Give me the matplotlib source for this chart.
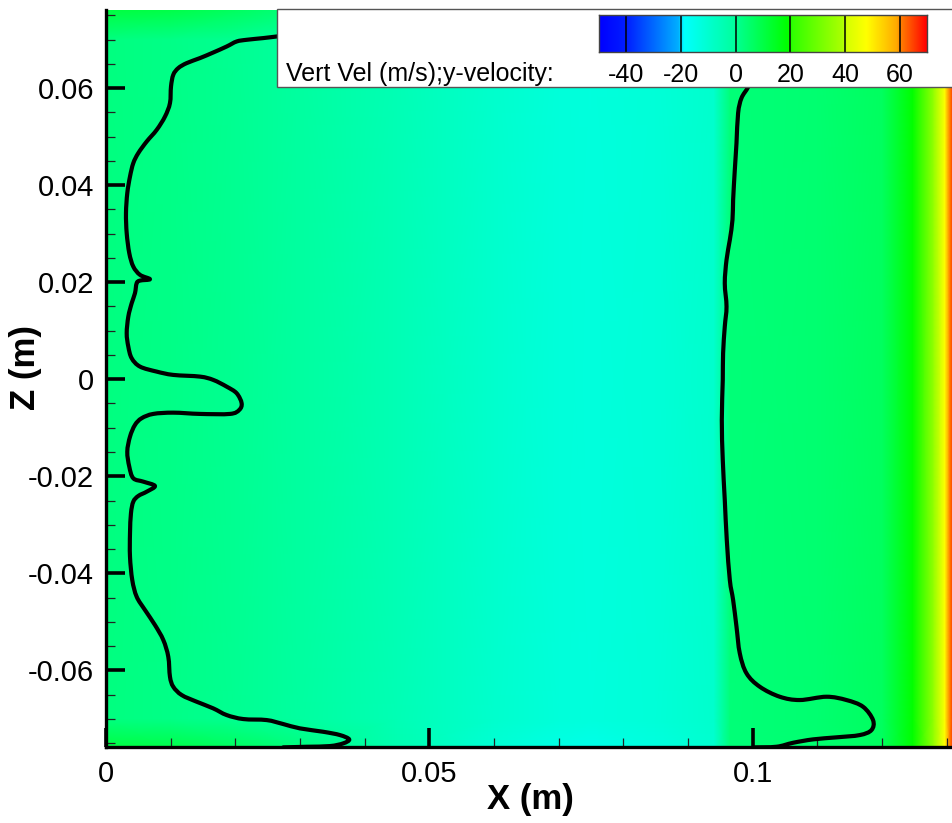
import numpy as np
import matplotlib
matplotlib.use('Agg')
import matplotlib.pyplot as plt
from matplotlib.colors import LinearSegmentedColormap, Normalize
from matplotlib.patches import Rectangle, PathPatch
from matplotlib.path import Path
from matplotlib.ticker import MultipleLocator, FixedLocator, FuncFormatter
import matplotlib.transforms as mtransforms

plt.rcParams['font.family'] = ['Liberation Sans', 'DejaVu Sans']
plt.rcParams['axes.unicode_minus'] = False

# ---------------- data ----------------
# colour map anchors (value -> colour)
cmap_values = [-50, -40, -21, -19, -1, 1, 19, 21, 39, 41, 48, 59, 61, 70]
cmap_colors = ['#0000ff', '#001eff', '#00afff', '#00ffff', '#00ffa0', '#00ff8c',
               '#00ff00', '#32ff00', '#aaff00', '#d7ff00', '#ffff00', '#ffaa00',
               '#ff7800', '#ff0000']
cb_min, cb_max = -50, 70
cb_ticks = [-40, -20, 0, 20, 40, 60]

# vertical velocity field (m/s)
field_x = [0.0, 0.01, 0.02, 0.03, 0.045, 0.06, 0.07, 0.075, 0.085, 0.094, 0.0965,
           0.11, 0.12, 0.1247, 0.128, 0.1297, 0.1308]
field_mid = [2.5, 1.6, 0.4, -1.0, -5.0, -9.5, -12.0, -12.5, -11.5, -9.5, 3.6,
             4.5, 6.8, 19.0, 36.0, 48.0, 65.0]
field_edge = [11.0, 10.0, 7.0, 3.0, -4.0, -11.0, -14.0, -15.0, -13.0, -10.0, 3.6,
              4.5, 6.8, 19.0, 36.0, 48.0, 65.0]
field_z = [-0.0762, -0.070, 0.070, 0.0762]

# iso-line near the left wall
left_x = [0.0300, 0.02638, 0.02431, 0.02175, 0.02020, 0.01866, 0.01658, 0.01453, 0.01247,
          0.01117, 0.01040, 0.01005, 0.00989, 0.00912, 0.00784, 0.00629, 0.00499, 0.00422,
          0.00371, 0.00329, 0.00309, 0.00320, 0.00360, 0.00422, 0.00526, 0.00680, 0.00526,
          0.00474, 0.00448, 0.00397, 0.00345, 0.00320, 0.00345, 0.00397, 0.00526, 0.00784,
          0.01040, 0.01453, 0.01658, 0.01866, 0.02020, 0.02097, 0.02060, 0.01917, 0.01453,
          0.01040, 0.00731, 0.00551, 0.00448, 0.00371, 0.00329, 0.00360, 0.00422, 0.00577,
          0.00757, 0.00629, 0.00499, 0.00422, 0.00386, 0.00371, 0.00371, 0.00406, 0.00474,
          0.00603, 0.00757, 0.00886, 0.00963, 0.00989, 0.01040, 0.01170, 0.01402, 0.01658,
          0.01866, 0.02122, 0.02484, 0.02740, 0.02998, 0.03358, 0.03617, 0.03760, 0.03668,
          0.03462, 0.03102, 0.02740]
left_z = [0.07120, 0.07064, 0.07031, 0.06996, 0.06961, 0.06858, 0.06734, 0.06619, 0.06515,
          0.06412, 0.06274, 0.06033, 0.05691, 0.05414, 0.05140, 0.04899, 0.04660, 0.04454,
          0.04177, 0.03835, 0.03423, 0.03010, 0.02598, 0.02322, 0.02151, 0.02062, 0.02033,
          0.01979, 0.01773, 0.01567, 0.01291, 0.00948, 0.00672, 0.00433, 0.00260, 0.00157,
          0.00089, 0.00054, -0.00014, -0.00153, -0.00289, -0.00495, -0.00633, -0.00715, -0.00715,
          -0.00689, -0.00715, -0.00804, -0.00942, -0.01184, -0.01493, -0.01802, -0.02041, -0.02111,
          -0.02200, -0.02318, -0.02406, -0.02524, -0.02763, -0.03175, -0.03658, -0.04138, -0.04482,
          -0.04757, -0.05066, -0.05375, -0.05720, -0.06132, -0.06338, -0.06509, -0.06647, -0.06784,
          -0.06922, -0.07004, -0.07025, -0.07107, -0.07196, -0.07266, -0.07334, -0.07423, -0.07505,
          -0.07561, -0.07575, -0.07588]

# iso-line near x = 0.1 m
right_x = [0.10062, 0.10000, 0.09927, 0.09825, 0.09773, 0.09748, 0.09722, 0.09696, 0.09686,
           0.09645, 0.09594, 0.09567, 0.09594, 0.09567, 0.09541, 0.09536, 0.09521, 0.09536,
           0.09567, 0.09598, 0.09645, 0.09696, 0.09748, 0.09799, 0.09903, 0.10108, 0.10417,
           0.10726, 0.11139, 0.11448, 0.11705, 0.11859, 0.11835, 0.11654, 0.11294, 0.10932,
           0.10623, 0.10366, 0.10005]
right_z = [0.07614, 0.06274, 0.06021, 0.05794, 0.05485, 0.04866, 0.04315, 0.03697, 0.03285,
           0.02872, 0.02460, 0.01979, 0.01497, 0.01085, 0.00536, -0.00014, -0.00839, -0.01664,
           -0.02488, -0.03313, -0.04138, -0.04551, -0.05101, -0.05649, -0.06062, -0.06338, -0.06544,
           -0.06612, -0.06544, -0.06612, -0.06751, -0.07025, -0.07231, -0.07334, -0.07381, -0.07423,
           -0.07493, -0.07575, -0.07588]

x_lim = (0.0, 0.1308)
z_lim = (-0.0758, 0.0761)
x_major = [0.0, 0.05, 0.1]
z_major = [-0.06, -0.04, -0.02, 0.0, 0.02, 0.04, 0.06]
legend_title = 'Vert Vel (m/s);y-velocity:'


def smooth_path(xs, zs):
    """Catmull-Rom curve through the read points, as cubic Bezier segments."""
    p = np.column_stack([xs, zs]).astype(float)
    ext = np.vstack([p[0], p, p[-1]])
    verts = [p[0]]
    codes = [Path.MOVETO]
    for i in range(1, len(ext) - 2):
        p0, p1, p2, p3 = ext[i - 1], ext[i], ext[i + 1], ext[i + 2]
        verts += [p1 + (p2 - p0) / 6.0, p2 - (p3 - p1) / 6.0, p2]
        codes += [Path.CURVE4] * 3
    return Path(verts, codes)


# ---------------- figure ----------------
W, H = 952, 823
fig = plt.figure(figsize=(W / 100, H / 100), dpi=100)
fig.patch.set_facecolor('white')

ax = fig.add_axes([106 / W, (H - 747) / H, (W - 106) / W, (747 - 10) / H])

cmap = LinearSegmentedColormap.from_list(
    'tec', list(zip([(v - cb_min) / (cb_max - cb_min) for v in cmap_values], cmap_colors)), N=1024)
norm = Normalize(cb_min, cb_max)

FX, FZ = np.meshgrid(field_x, field_z)
FC = np.array([field_edge, field_mid, field_mid, field_edge])
ax.pcolormesh(FX, FZ, FC, shading='gouraud', cmap=cmap, norm=norm)

for lx, lz in [(left_x, left_z), (right_x, right_z)]:
    ax.add_patch(PathPatch(smooth_path(lx, lz), facecolor='none', edgecolor='black', lw=3.0,
                           joinstyle='round', capstyle='round', zorder=3))

ax.set_xlim(*x_lim)
ax.set_ylim(*z_lim)

for s in ['top', 'right']:
    ax.spines[s].set_visible(False)
for s in ['left', 'bottom']:
    ax.spines[s].set_linewidth(2.4)
    ax.spines[s].set_zorder(5)

fmt = FuncFormatter(lambda v, p: '%g' % round(v, 6))
ax.xaxis.set_major_locator(FixedLocator(x_major))
ax.xaxis.set_minor_locator(MultipleLocator(0.01))
ax.yaxis.set_major_locator(FixedLocator(z_major))
ax.yaxis.set_minor_locator(MultipleLocator(0.005))
ax.xaxis.set_major_formatter(fmt)
ax.yaxis.set_major_formatter(fmt)

ax.tick_params(which='major', direction='in', length=13.5, width=2.6, labelsize=21, colors='black')
ax.tick_params(which='minor', direction='in', length=6.5, width=0.9, color='#222222')
ax.tick_params(axis='x', which='major', pad=9.5)
ax.tick_params(axis='y', which='major', pad=8.5)
ax.tick_params(top=False, right=False, which='both')

fig.text(530 / W, 1 - 800 / H, 'X (m)', fontsize=25, fontweight='bold', ha='center', va='center')
fig.text(26 / W, 1 - 367 / H, 'Z (m)', fontsize=25, fontweight='bold', ha='center', va='center',
         rotation=90)

# legend box
box = Rectangle((277 / W, 1 - 87 / H), (W + 10 - 277) / W, (87 - 9) / H, transform=fig.transFigure,
                facecolor='white', edgecolor='#555555', lw=1.0, zorder=1)
fig.patches.append(box)

cax = fig.add_axes([599 / W, (H - 52) / H, 328 / W, 37 / H])
cax.set_zorder(2)
cax.imshow(np.linspace(cb_min, cb_max, 600)[None, :], extent=[cb_min, cb_max, 0, 1], aspect='auto',
           cmap=cmap, norm=norm, interpolation='bilinear')
for v in cb_ticks:
    cax.axvline(v, color='black', lw=1.1)
cax.set_xlim(cb_min, cb_max)
cax.set_ylim(0, 1)
cax.set_xticks([])
cax.set_yticks([])
for s in cax.spines.values():
    s.set_color('#444444')
    s.set_linewidth(1.0)

btr = mtransforms.blended_transform_factory(cax.transData, fig.transFigure)
for v in cb_ticks:
    fig.text(v, 1 - 81.5 / H, str(v), transform=btr, fontsize=18, ha='center', va='baseline', zorder=3)
fig.text(286 / W, 1 - 81.5 / H, legend_title, fontsize=18, ha='left', va='baseline', zorder=3)

fig.savefig('out.png', dpi=100)
